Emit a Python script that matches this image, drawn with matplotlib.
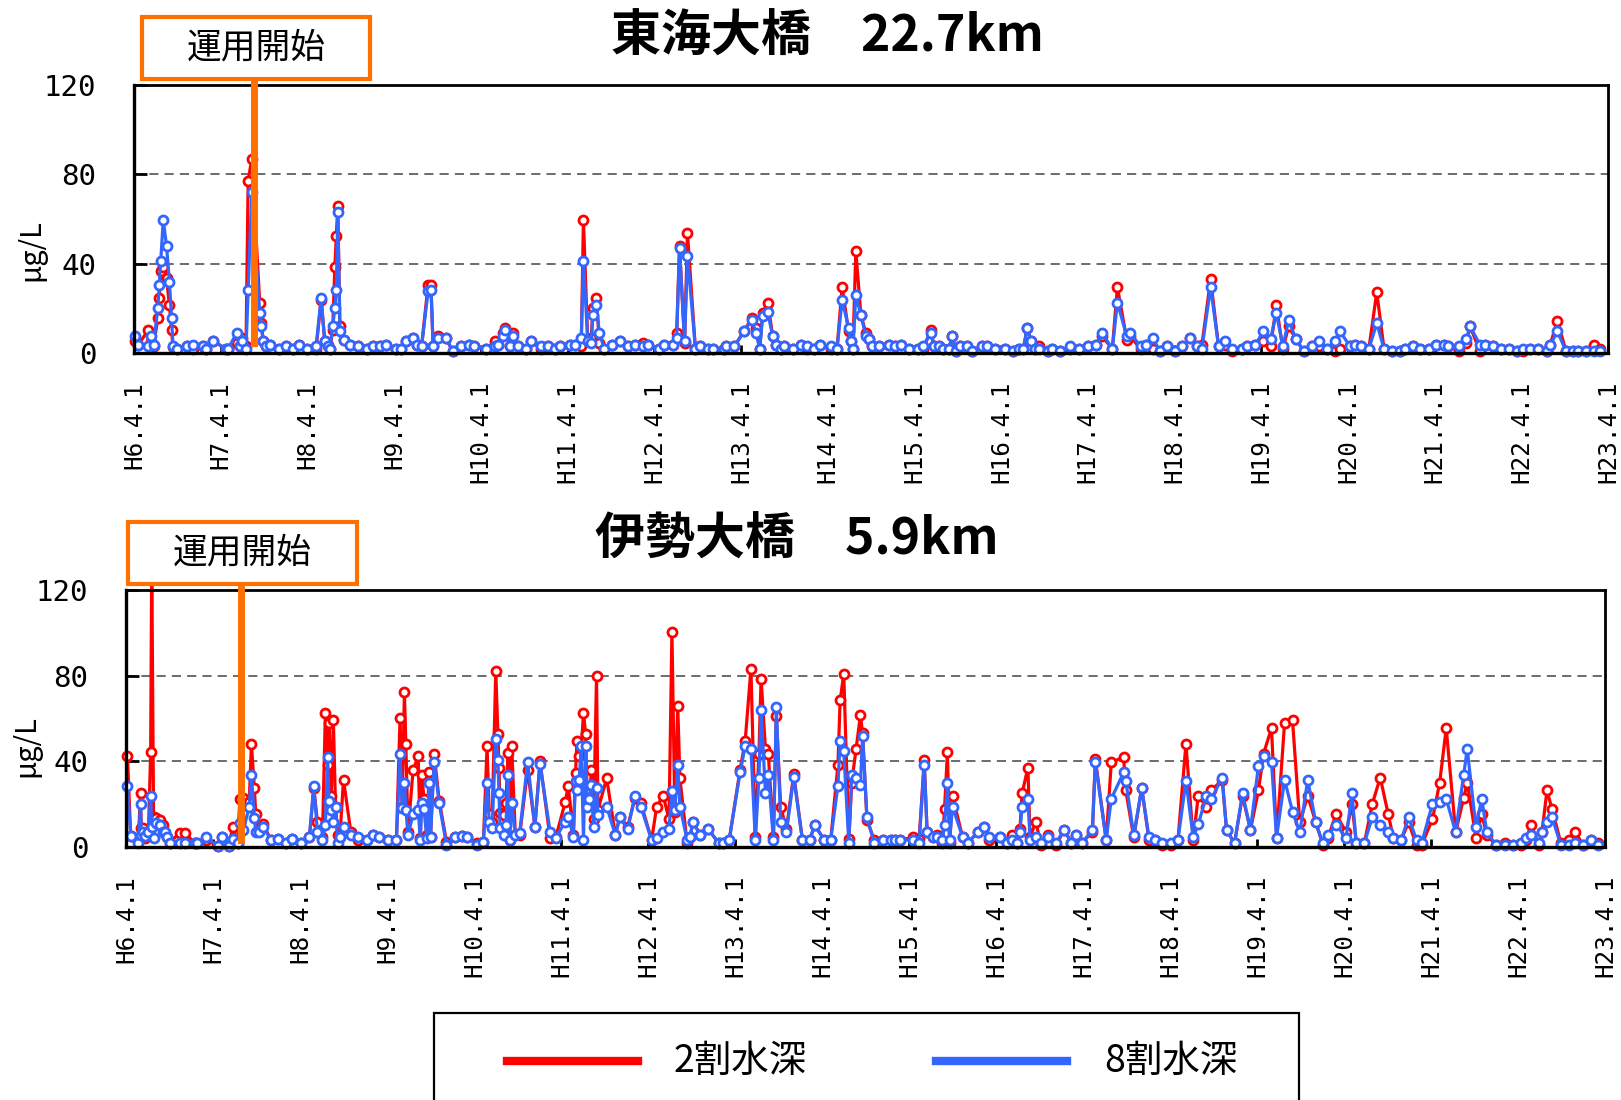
import matplotlib
matplotlib.use('Agg')
import matplotlib.pyplot as plt
from matplotlib.lines import Line2D
from matplotlib.patches import Rectangle
import matplotlib.transforms as mtransforms

CJK = ['Noto Sans CJK JP', 'DejaVu Sans']
MONO = ['DejaVu Sans Mono']
plt.rcParams['font.family'] = CJK

RED = '#FF0000'
BLUE = '#3366FF'
ORANGE = '#FF7000'

# ---------------- data ----------------
tick_labels = ['H6.4.1', 'H7.4.1', 'H8.4.1', 'H9.4.1', 'H10.4.1', 'H11.4.1',
               'H12.4.1', 'H13.4.1', 'H14.4.1', 'H15.4.1', 'H16.4.1', 'H17.4.1',
               'H18.4.1', 'H19.4.1', 'H20.4.1', 'H21.4.1', 'H22.4.1', 'H23.4.1']
series_labels = ['2割水深', '8割水深']

# 東海大橋 22.7km : sampling date in months after H6.4.1
tokai_month = [
    0.1, 0.6, 2.0, 2.4, 2.7, 3.3, 3.5, 3.7, 4.05, 4.5, 4.9, 5.2, 5.4, 6.0, 7.3, 8.1, 9.6, 10.0, 11.0,
    12.8, 13.0, 14.2, 14.7, 15.0, 15.5, 15.8, 16.3, 17.4, 17.6, 17.9, 18.3, 18.8, 20.0, 21.1, 22.0, 22.9, 23.9,
    25.2, 25.9, 26.4, 26.9, 27.1, 27.5, 27.8, 28.0, 28.2, 28.5, 29.0, 29.9, 31.0, 32.2, 33.1, 34.0, 34.9,
    36.3, 37.0, 37.7, 38.6, 39.1, 39.8, 40.7, 41.1, 41.4, 42.1, 43.2, 44.1, 45.3, 46.4, 47.1,
    48.7, 49.9, 50.4, 51.0, 51.4, 52.0, 52.5, 53.1, 54.3, 55.0, 56.3, 57.3, 58.2, 58.9,
    60.3, 61.1, 61.9, 62.2, 62.8, 63.3, 63.5, 64.0, 64.4, 65.1, 66.2, 67.3, 68.3, 69.4, 70.4, 71.2,
    72.7, 73.4, 74.6, 75.1, 75.5, 76.2, 76.6, 77.7, 78.3, 79.4, 80.2, 81.7, 82.0, 83.1,
    84.4, 85.5, 86.1, 86.6, 87.0, 87.7, 88.4, 88.8, 89.5, 90.0, 91.2, 92.3, 93.1, 94.1, 94.9,
    96.4, 97.3, 98.0, 98.9, 99.2, 99.5, 99.9, 100.6, 101.3, 101.7, 102.2, 103.1, 104.5, 105.3, 106.2, 107.2,
    108.5, 109.2, 110.3, 110.7, 111.4, 111.9, 112.8, 113.2, 113.8, 114.3, 115.3, 116.0, 117.3, 118.1, 119.2,
    120.6, 121.6, 122.5, 123.1, 123.6, 124.2, 124.7, 125.3, 126.5, 127.1, 128.2, 129.6, 130.8,
    132.1, 133.2, 134.0, 135.4, 136.1, 137.4, 137.9, 139.3, 140.0, 141.0, 142.0, 143.0,
    144.1, 145.0, 146.1, 147.1, 147.8, 149.0, 150.1, 151.0, 151.9, 153.3, 154.0, 155.2,
    156.3, 157.3, 158.1, 159.0, 159.8, 160.8, 161.9, 163.0, 164.0, 165.1, 166.2, 166.9,
    168.3, 169.0, 169.8, 170.9, 172.0, 173.0, 174.1, 175.2, 175.9, 177.0, 178.0, 179.2,
    180.2, 181.3, 181.9, 183.4, 184.4, 184.9, 186.3, 187.0, 188.1, 189.2, 190.3, 191.4,
    192.3, 193.2, 194.3, 195.6, 196.0, 197.0, 198.2, 199.2, 199.9, 201.0, 202.1, 202.9]
tokai_20 = [
    5.2, 3.7, 10.4, 5.0, 3.0, 15.6, 24.6, 36.5, 38.7, 33.5, 21.6, 10.4, 2.5, 1.8, 3.0, 1.8, 3.0, 1.8, 5.2,
    1.8, 1.8, 4.5, 3.0, 6.7, 3.0, 77.0, 87.0, 22.6, 13.4, 5.2, 3.0, 3.7, 1.8, 3.0, 1.8, 3.7, 1.8,
    1.8, 23.8, 5.2, 3.7, 1.8, 10.4, 38.7, 52.6, 65.6, 11.9, 6.0, 3.7, 3.0, 1.8, 3.0, 3.0, 3.7,
    1.8, 1.8, 5.2, 6.7, 3.7, 3.0, 30.5, 30.5, 3.0, 7.5, 6.7, 0.7, 3.0, 3.7, 3.0,
    1.8, 5.2, 3.7, 8.9, 11.2, 3.0, 8.9, 3.0, 1.8, 5.2, 1.8, 3.0, 1.8, 3.0,
    3.7, 3.7, 3.0, 59.6, 5.2, 6.7, 20.1, 24.6, 4.5, 1.8, 3.7, 5.2, 3.0, 3.7, 4.5, 3.7,
    1.8, 3.7, 3.7, 8.9, 47.7, 4.5, 53.6, 1.8, 3.0, 1.8, 1.8, 1.8, 3.0, 3.0,
    9.7, 15.6, 11.2, 1.8, 17.9, 22.6, 7.5, 3.7, 1.8, 3.0, 1.8, 3.7, 1.8, 1.8, 3.7,
    1.8, 1.8, 29.5, 9.7, 5.2, 1.8, 45.7, 17.0, 8.9, 6.3, 3.0, 3.0, 3.7, 3.0, 3.7, 1.8,
    1.8, 1.8, 10.4, 3.0, 3.0, 1.8, 1.8, 7.5, 0.7, 3.0, 3.0, 0.7, 3.0, 3.0, 1.8,
    1.8, 0.7, 1.8, 1.8, 11.2, 5.2, 1.8, 3.0, 0.7, 1.8, 0.7, 1.8, 1.8,
    3.0, 3.7, 7.5, 1.8, 29.5, 6.0, 7.5, 1.8, 3.7, 1.8, 0.7, 3.0,
    0.7, 3.0, 6.7, 3.0, 3.7, 33.0, 3.0, 3.7, 0.7, 1.8, 3.0, 3.7,
    5.2, 3.0, 21.3, 1.8, 11.9, 6.3, 0.7, 3.0, 3.0, 1.8, 0.7, 1.8,
    3.0, 3.7, 3.0, 1.8, 27.3, 1.8, 0.7, 0.7, 1.8, 3.0, 1.8, 1.8,
    3.7, 3.7, 3.0, 0.7, 4.5, 11.9, 0.7, 3.7, 3.0, 1.8, 1.8, 0.7,
    0.7, 1.8, 1.8, 0.7, 3.7, 14.5, 0.7, 0.7, 0.7, 0.7, 3.7, 1.8]
tokai_80 = [
    7.5, 3.7, 3.0, 7.5, 3.7, 20.1, 30.5, 41.0, 59.6, 48.0, 32.0, 15.6, 3.0, 1.8, 3.0, 3.7, 3.0, 1.8, 5.2,
    1.8, 1.8, 8.9, 3.0, 5.2, 1.8, 28.0, 72.0, 17.9, 11.9, 5.2, 3.0, 3.7, 1.8, 3.0, 1.8, 3.7, 1.8,
    3.0, 24.6, 5.2, 3.0, 1.8, 11.9, 20.1, 28.0, 63.3, 9.7, 6.0, 3.7, 3.0, 1.8, 3.0, 3.0, 3.7,
    1.8, 1.8, 5.2, 6.7, 3.7, 3.0, 27.6, 28.3, 3.0, 6.7, 6.7, 0.7, 3.0, 3.7, 3.0,
    1.8, 3.0, 3.7, 7.5, 10.4, 3.0, 7.5, 3.0, 1.8, 5.2, 3.0, 3.0, 1.8, 3.0,
    3.7, 3.7, 6.7, 41.0, 5.2, 4.5, 17.0, 21.6, 8.9, 1.8, 3.7, 5.2, 3.0, 3.7, 3.0, 3.7,
    1.8, 3.7, 3.7, 6.7, 47.0, 5.2, 43.5, 1.8, 3.0, 1.8, 1.8, 1.8, 3.0, 3.0,
    9.7, 14.6, 8.9, 1.8, 16.7, 18.2, 7.5, 3.7, 1.8, 3.0, 1.8, 3.7, 3.0, 1.8, 3.7,
    3.0, 1.8, 23.8, 11.2, 5.2, 1.8, 26.0, 17.0, 7.5, 6.3, 3.0, 3.0, 3.7, 3.0, 3.7, 1.8,
    1.8, 3.0, 8.9, 3.0, 3.0, 1.8, 1.8, 7.5, 0.7, 3.0, 3.0, 0.7, 3.0, 3.0, 1.8,
    1.8, 0.7, 1.8, 1.8, 11.2, 5.2, 1.8, 1.8, 0.7, 1.8, 0.7, 3.0, 1.8,
    3.0, 3.7, 8.9, 1.8, 22.6, 7.5, 8.9, 3.0, 3.7, 6.7, 0.7, 3.0,
    0.7, 3.0, 6.7, 3.0, 1.8, 29.5, 3.0, 5.2, 1.8, 1.8, 3.0, 3.7,
    9.7, 6.3, 17.9, 3.0, 14.6, 6.3, 0.7, 3.0, 5.2, 1.8, 5.2, 9.7,
    3.0, 3.7, 3.0, 1.8, 13.4, 1.8, 0.7, 0.7, 1.8, 3.0, 1.8, 1.8,
    3.7, 3.7, 3.0, 3.0, 6.3, 11.9, 3.7, 3.7, 3.0, 1.8, 1.8, 0.7,
    1.8, 1.8, 1.8, 0.7, 3.7, 9.7, 0.7, 0.7, 0.7, 0.7, 0.7, 0.7]

# 伊勢大橋 5.9km
ise_month = [
    0.2, 0.65, 1.7, 2.0, 2.1, 2.4, 2.6, 3.1, 3.4, 3.55, 3.8, 4.2, 4.7, 5.1, 5.4, 5.6, 6.0, 7.4, 8.1, 9.5, 9.8, 11.0,
    12.7, 13.2, 14.2, 14.7, 15.4, 15.7, 16.2, 17.0, 17.3, 17.7, 17.9, 18.3, 18.9, 20.0, 21.0, 22.1, 22.9,
    24.2, 25.3, 25.9, 26.4, 27.1, 27.5, 27.8, 28.0, 28.3, 28.6, 28.9, 29.2, 29.5, 30.0, 31.0, 32.0, 33.2, 34.1, 34.9,
    36.2, 37.3, 37.8, 38.1, 38.4, 38.6, 38.9, 39.6, 40.3, 40.6, 40.8, 41.1, 41.5, 41.8, 42.0, 42.5, 43.2, 44.2, 45.4, 46.3, 47.1,
    48.4, 49.3, 49.8, 50.1, 50.5, 51.0, 51.3, 51.45, 51.6, 52.1, 52.4, 52.7, 52.9, 53.2, 53.7, 54.3, 55.4, 56.4, 57.1, 58.5, 59.3,
    60.6, 61.0, 61.7, 62.0, 62.2, 62.5, 62.8, 63.1, 63.4, 63.6, 63.9, 64.2, 64.5, 64.9, 65.1, 66.3, 67.5, 68.1, 69.2, 70.2, 71.0,
    72.5, 73.2, 74.1, 74.9, 75.3, 75.7, 76.1, 76.4, 77.4, 77.8, 78.2, 79.2, 80.3, 81.8, 82.3, 83.2,
    84.7, 85.4, 86.2, 86.8, 87.3, 87.6, 88.2, 88.6, 89.3, 89.7, 90.3, 91.1, 92.1, 93.3, 94.3, 95.0,
    96.3, 97.2, 98.2, 98.5, 99.0, 99.7, 100.1, 100.7, 101.3, 101.6, 102.2, 103.2, 104.4, 105.5, 106.1, 106.8,
    108.6, 109.4, 110.1, 110.5, 111.3, 111.9, 112.6, 112.9, 113.3, 113.6, 114.0, 115.4, 116.1, 117.5, 118.3, 119.1,
    120.5, 121.5, 122.2, 122.9, 123.3, 123.6, 124.4, 124.7, 125.5, 126.2, 127.2, 128.3, 129.4, 130.4, 131.1, 131.9,
    133.3, 133.7, 135.2, 135.9, 137.6, 137.9, 139.0, 140.1, 141.1, 141.9, 142.9,
    144.2, 145.1, 146.2, 147.2, 147.9, 149.0, 149.7, 151.2, 151.8, 152.9, 154.0, 155.1,
    156.2, 156.9, 158.0, 158.7, 159.8, 160.9, 161.9, 163.0, 164.1, 165.1, 165.8, 166.9,
    168.3, 169.1, 169.7, 170.8, 171.9, 173.0, 174.1, 174.8, 175.9, 176.9, 178.0, 178.7,
    180.2, 181.2, 182.1, 183.4, 184.5, 185.0, 186.2, 187.0, 187.7, 189.0, 190.2, 191.3,
    192.4, 193.1, 193.8, 194.9, 195.3, 196.0, 196.7, 197.9, 199.0, 199.9, 201.0, 202.0, 203.0]
ise_20 = [
    42.3, 5.3, 3.0, 25.0, 8.7, 8.7, 4.1, 6.9, 44.3, 135.0, 13.9, 13.4, 12.6, 10.3, 6.4, 4.5, 1.7, 6.7, 6.7, 1.7, 1.7, 3.3,
    0.6, 4.5, 0.6, 9.2, 1.7, 22.5, 22.8, 21.2, 48.2, 27.5, 15.3, 8.0, 10.8, 3.3, 3.6, 1.7, 3.6,
    1.7, 4.5, 27.5, 11.9, 4.8, 62.6, 38.4, 57.9, 23.6, 59.1, 18.9, 5.6, 4.5, 31.4, 7.2, 3.3, 3.3, 5.6, 4.5,
    3.3, 3.3, 60.2, 18.9, 72.4, 48.0, 7.2, 36.0, 42.3, 4.0, 33.7, 22.5, 5.6, 34.8, 4.5, 43.4, 21.7, 2.5, 4.5, 5.1, 4.5,
    1.7, 2.5, 47.0, 15.3, 11.9, 82.0, 52.9, 36.8, 15.8, 15.0, 20.4, 44.1, 3.3, 47.0, 5.6, 5.6, 36.0, 9.5, 40.0, 4.1, 4.8,
    21.2, 28.7, 5.6, 34.5, 49.3, 42.3, 46.0, 62.6, 52.9, 25.0, 22.8, 36.0, 12.9, 79.7, 17.3, 32.1, 5.6, 13.9, 9.5, 22.8, 20.7,
    3.3, 18.9, 23.9, 12.9, 100.3, 16.5, 66.0, 32.1, 1.7, 4.5, 11.9, 5.6, 8.3, 1.7, 1.7, 3.3,
    36.0, 49.3, 83.3, 4.5, 43.5, 78.6, 45.7, 43.4, 4.5, 61.3, 18.9, 8.3, 34.0, 3.3, 3.3, 10.3,
    3.3, 3.3, 38.4, 68.5, 80.8, 3.6, 30.1, 45.7, 61.5, 53.0, 12.6, 3.3, 3.3, 3.3, 3.3, 3.3,
    4.5, 3.6, 40.7, 6.9, 4.5, 5.6, 2.0, 17.6, 44.3, 1.7, 23.9, 4.5, 2.0, 6.9, 9.2, 3.3,
    4.5, 2.0, 5.6, 2.0, 8.3, 25.0, 37.1, 4.5, 11.9, 0.9, 5.6, 0.9, 8.0, 2.0, 5.6, 2.0,
    7.2, 41.0, 3.3, 39.5, 42.0, 26.4, 4.5, 27.5, 3.3, 3.3, 0.9,
    0.9, 3.3, 48.2, 3.3, 23.9, 18.9, 26.4, 31.4, 8.0, 1.7, 23.9, 8.0,
    26.4, 43.5, 55.5, 4.4, 57.9, 59.1, 11.5, 23.9, 11.5, 0.9, 4.4, 15.3,
    6.9, 20.1, 1.7, 1.7, 20.1, 32.4, 15.3, 4.4, 3.3, 11.5, 0.9, 0.9,
    12.9, 30.1, 55.5, 6.9, 22.8, 30.1, 4.4, 15.3, 5.6, 0.9, 2.0, 0.9,
    0.9, 3.3, 10.3, 0.9, 6.9, 26.4, 17.6, 2.0, 3.3, 6.9, 0.9, 3.3, 2.0]
ise_80 = [
    28.7, 5.3, 1.7, 20.0, 5.6, 6.9, 5.1, 6.9, 23.9, 9.2, 4.0, 11.4, 10.3, 7.2, 7.2, 4.5, 1.7, 1.7, 1.7, 1.7, 1.7, 4.5,
    0.6, 4.5, 0.6, 3.6, 1.7, 11.1, 8.0, 18.9, 33.7, 13.4, 7.2, 7.2, 9.5, 3.3, 3.6, 1.7, 3.6,
    1.7, 4.5, 28.7, 7.2, 3.3, 10.3, 42.0, 21.5, 17.3, 11.9, 18.9, 1.7, 4.5, 9.5, 5.6, 4.5, 3.3, 5.6, 4.5,
    3.3, 3.3, 43.4, 18.1, 30.1, 17.3, 5.6, 15.3, 17.3, 3.3, 20.4, 17.6, 4.0, 30.1, 4.5, 39.6, 20.4, 1.0, 4.5, 5.1, 4.5,
    1.0, 2.5, 30.0, 11.9, 8.7, 50.5, 40.7, 25.0, 8.7, 5.6, 10.3, 33.7, 3.3, 20.4, 5.6, 6.7, 39.6, 9.5, 38.8, 7.2, 4.4,
    11.9, 14.2, 4.8, 31.0, 26.4, 31.3, 47.0, 3.3, 47.3, 18.9, 22.3, 29.0, 9.2, 27.5, 15.0, 18.9, 5.6, 13.9, 8.3, 23.9, 18.9,
    3.3, 4.4, 7.2, 8.3, 26.2, 17.3, 38.4, 18.9, 3.3, 4.5, 11.9, 5.6, 8.3, 1.7, 1.7, 3.3,
    34.8, 47.0, 45.7, 3.3, 32.4, 64.1, 25.0, 33.7, 3.3, 65.2, 11.9, 7.2, 32.6, 3.3, 3.3, 10.3,
    3.3, 3.3, 28.7, 49.3, 44.6, 2.0, 33.7, 32.4, 29.0, 52.0, 13.9, 2.0, 3.3, 3.3, 3.3, 3.3,
    3.3, 2.0, 38.4, 6.9, 4.5, 4.5, 3.3, 10.3, 29.8, 3.3, 18.9, 4.5, 2.0, 6.9, 9.2, 4.5,
    4.5, 2.0, 3.3, 2.0, 6.9, 18.9, 22.5, 3.3, 4.5, 2.0, 4.5, 2.0, 8.0, 2.0, 5.6, 2.0,
    8.0, 39.5, 3.3, 22.5, 34.8, 31.0, 5.6, 27.5, 4.5, 3.3, 2.0,
    2.0, 3.3, 31.0, 4.5, 10.6, 23.6, 22.5, 32.4, 8.0, 1.7, 25.0, 8.0,
    38.0, 42.3, 39.6, 4.4, 31.4, 16.5, 6.9, 31.4, 11.5, 1.7, 5.6, 10.3,
    4.4, 25.0, 1.7, 1.7, 13.9, 10.3, 6.9, 4.4, 3.3, 13.9, 3.3, 1.7,
    20.1, 21.2, 22.5, 6.9, 33.4, 45.7, 9.2, 22.5, 6.9, 0.9, 0.9, 0.9,
    2.0, 4.4, 5.6, 1.7, 6.9, 11.5, 13.9, 0.9, 0.9, 1.7, 0.9, 3.3, 0.9]

assert len(tokai_month) == len(tokai_20) == len(tokai_80), (len(tokai_month), len(tokai_20), len(tokai_80))
assert len(ise_month) == len(ise_20) == len(ise_80), (len(ise_month), len(ise_20), len(ise_80))

# operation start of the weir (months after H6.4.1, as drawn)
start_tokai = 16.6
start_ise = 15.9

# ---------------- figure ----------------
W, H = 1621, 1100
fig = plt.figure(figsize=(W / 100, H / 100), dpi=100)


def fx(px):
    return px / W


def fy(py):
    return 1 - py / H


def panel(rect, months, v20, v80, start_m, line_bottom_frac, line_top_frac):
    ax = fig.add_axes(rect)
    kw = dict(lw=2.3, marker='o', ms=6.5, mfc='white', mew=2.0, clip_on=False)
    ax.plot(months, v20, color=RED, mec=RED, zorder=3, **kw)
    ax.plot(months, v80, color=BLUE, mec=BLUE, zorder=4, **kw)
    ax.set_xlim(0, 204)
    ax.set_ylim(0, 120)
    ax.set_yticks([0, 40, 80, 120])
    ax.set_xticks(range(0, 205, 12))
    ax.set_xticklabels(tick_labels, rotation=90, fontfamily=MONO, fontsize=17.5,
                       va='top', ha='center')
    for lab in ax.get_yticklabels():
        lab.set_fontfamily(MONO)
        lab.set_fontsize(21)
    ax.tick_params(axis='y', direction='in', length=9, width=2, pad=27)
    ax.tick_params(axis='x', direction='in', length=6, width=2, pad=20)
    ax.grid(axis='y', linestyle=(0, (6, 4)), color='#444444', lw=1.1, zorder=1)
    for side, sp in ax.spines.items():
        sp.set_color('black')
        sp.set_linewidth(2.4 if side in ('left', 'bottom') else 2.0)
        sp.set_zorder(5)
    tr = mtransforms.blended_transform_factory(ax.transData, ax.transAxes)
    ax.add_line(Line2D([start_m, start_m], [line_bottom_frac, line_top_frac],
                       transform=tr, color=ORANGE, lw=5, clip_on=False, zorder=6))
    return ax


# top panel: axes 134..1608 x 85..353
ax1 = panel([fx(134), fy(353), fx(1608) - fx(134), (353 - 85) / H],
            tokai_month, tokai_20, tokai_80, start_tokai, 0.037, 1.03)
# bottom panel: axes 126..1605 x 590..847
ax2 = panel([fx(126), fy(847), fx(1605) - fx(126), (847 - 590) / H],
            ise_month, ise_20, ise_80, start_ise, 0.027, 1.03)

# titles
fig.text(fx(827), fy(37), '東海大橋　22.7km', ha='center', va='center',
         fontsize=36, fontweight='bold')
fig.text(fx(797), fy(540), '伊勢大橋　5.9km', ha='center', va='center',
         fontsize=36, fontweight='bold')

# y labels
fig.text(fx(31), fy(250), 'μg/L', rotation=90, ha='center', va='center', fontsize=21)
fig.text(fx(26), fy(746), 'μg/L', rotation=90, ha='center', va='center', fontsize=21)

# "運用開始" boxes
for (x0, y0, x1, y1) in [(142, 17, 370, 79), (128, 522, 357, 584)]:
    fig.add_artist(Rectangle((fx(x0), fy(y1)), fx(x1) - fx(x0), (y1 - y0) / H,
                             transform=fig.transFigure, facecolor='white',
                             edgecolor=ORANGE, lw=3, zorder=10))
    fig.text(fx((x0 + x1) / 2), fy((y0 + y1) / 2), '運用開始', ha='center',
             va='center', fontsize=25, zorder=11)

# legend box (runs off the bottom edge)
fig.add_artist(Rectangle((fx(434), -0.02), fx(1299) - fx(434), fy(1013) + 0.02,
                         transform=fig.transFigure, facecolor='white',
                         edgecolor='black', lw=1.6, zorder=10))
for (lx0, lx1, tx), col, lab in zip([(507, 638, 674), (936, 1067, 1104)],
                                    [RED, BLUE], series_labels):
    fig.add_artist(Line2D([fx(lx0), fx(lx1)], [fy(1061), fy(1061)],
                          transform=fig.transFigure, color=col, lw=6, zorder=11))
    fig.text(fx(tx), fy(1061), lab, ha='left', va='center', fontsize=27, zorder=12)

fig.savefig('out.png', dpi=100)
